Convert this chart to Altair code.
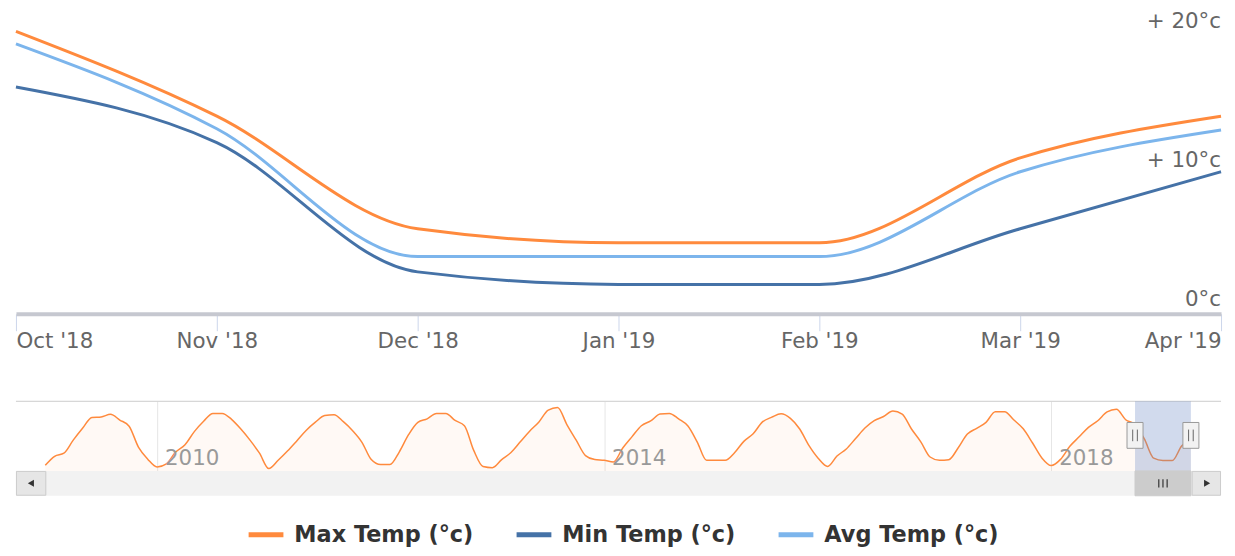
import json
import altair as alt
import pandas as pd

# ---------------- data ----------------
month_labels = ["Oct '18", "Nov '18", "Dec '18", "Jan '19", "Feb '19", "Mar '19", "Apr '19"]
max_temp = [20.1, 14.0, 5.9, 4.9, 4.9, 11.0, 14.0]
min_temp = [16.1, 12.1, 2.8, 1.9, 1.9, 5.9, 10.0]
avg_temp = [19.2, 13.1, 3.9, 3.9, 3.9, 10.0, 13.0]
series_names = ["Max Temp (°c)", "Min Temp (°c)", "Avg Temp (°c)"]
series_colors = ["#ff8a3d", "#4572a7", "#7cb5ec"]
y_ticks = [0, 10, 20]
y_tick_labels = ["0°c", "+ 10°c", "+ 20°c"]

# navigator: monthly max temperature, Jan 2009 .. Apr 2019
nav_2009 = [2.9, 6.7, 8.0, 13.5, 18.5, 23.1, 23.3, 24.4, 22.0, 19.4, 10.6, 5.5]
nav_2010 = [2.2, 3.5, 8.5, 11.6, 17.1, 21.5, 24.8, 24.8, 22.3, 18.2, 13.4, 8.0]
nav_2011 = [1.5, 5.0, 8.9, 13.2, 17.6, 21.1, 23.9, 24.2, 21.3, 17.5, 12.6, 5.3]
nav_2012 = [3.2, 3.2, 8.5, 15.8, 21.0, 22.5, 24.8, 24.8, 21.8, 19.6, 9.2, 2.4]
nav_2013 = [1.9, 5.3, 8.3, 12.8, 17.3, 21.2, 26.2, 27.3, 20.1, 13.5, 7.0, 5.3]
nav_2014 = [5.0, 4.3, 10.2, 15.0, 19.6, 21.6, 24.5, 24.8, 22.5, 19.5, 12.7, 5.0]
nav_2015 = [5.0, 5.0, 8.2, 13.0, 16.2, 21.2, 23.2, 24.6, 22.7, 18.2, 11.2, 5.8]
nav_2016 = [2.4, 6.8, 9.8, 14.2, 18.6, 21.7, 23.5, 25.8, 24.5, 18.2, 12.8, 6.4]
nav_2017 = [5.0, 5.25, 10.2, 16.1, 18.5, 21.0, 25.5, 25.5, 22.0, 18.3, 12.3, 6.0]
nav_2018 = [2.8, 5.4, 10.9, 14.9, 18.9, 21.7, 25.4, 26.5, 22.1, 20.1, 14.0, 5.9]
nav_2019 = [4.9, 4.9, 11.0, 14.0]
nav_first_year = 2009
year_ticks = [2010, 2014, 2018]
sel_start_idx = 117  # Oct 2018 in navigator series
sel_end_idx = 123    # Apr 2019

W = 1212
H_MAIN = 302
H_NAV = 70
H_SCROLL = 25
FONT = "DejaVu Sans"
FS = 21.5

# ---------------- tables ----------------
rows = []
for name, vals in zip(series_names, [max_temp, min_temp, avg_temp]):
    for i, v in enumerate(vals):
        rows.append({"idx": i, "series": name, "value": v})
main_df = pd.DataFrame(rows)
ylab_df = pd.DataFrame({"v": y_ticks, "label": y_tick_labels})

nav_vals = (nav_2009 + nav_2010 + nav_2011 + nav_2012 + nav_2013 + nav_2014 + nav_2015
            + nav_2016 + nav_2017 + nav_2018 + nav_2019)
nav_df = pd.DataFrame({"m": list(range(len(nav_vals))), "v": nav_vals})
year_df = pd.DataFrame({"m": [(y - nav_first_year) * 12 for y in year_ticks],
                        "label": [str(y) for y in year_ticks]})
sel_df = pd.DataFrame({"m0": [sel_start_idx], "m1": [sel_end_idx]})
handle_df = pd.DataFrame({"m": [sel_start_idx, sel_end_idx]})
sel_mid_df = pd.DataFrame({"m": [(sel_start_idx + sel_end_idx) / 2]})
one_df = pd.DataFrame({"a": [0]})

# ---------------- main chart ----------------
label_expr = json.dumps(month_labels) + "[datum.value]"
x_main = alt.X(
    "idx:Q",
    scale=alt.Scale(domain=[0, len(month_labels) - 1], nice=False, zero=False),
    axis=alt.Axis(values=list(range(len(month_labels))), labelExpr=label_expr, grid=False,
                  domainWidth=4, domainColor="#c6c8d0", offset=3, tickSize=17,
                  tickColor="#ccd6eb", tickWidth=1, labelFontSize=FS, labelColor="#666666",
                  labelBaseline="alphabetic", labelPadding=17, labelFlush=True, title=None),
)
y_scale = alt.Scale(domain=[0, 21.6], nice=False, zero=False)

lines = alt.Chart(main_df).mark_line(interpolate="monotone", strokeWidth=3).encode(
    x=x_main,
    y=alt.Y("value:Q", scale=y_scale,
            axis=alt.Axis(values=y_ticks, grid=True, gridColor="#e6e6e6", labels=False,
                          ticks=False, domain=False, title=None)),
    color=alt.Color("series:N", sort=series_names,
                    scale=alt.Scale(domain=series_names, range=series_colors),
                    legend=alt.Legend(orient="none", direction="horizontal", legendX=231.5,
                                      legendY=507, symbolType="stroke", symbolSize=1225,
                                      symbolStrokeWidth=5, labelFontSize=22.5,
                                      labelFontWeight="bold", labelColor="#333333",
                                      labelLimit=0, columnPadding=32.5, labelOffset=8.5,
                                      title=None)),
)
ylabels = alt.Chart(ylab_df).mark_text(align="right", baseline="alphabetic", dy=-5,
                                       fontSize=FS, color="#666666").encode(
    x=alt.value(W),
    y=alt.Y("v:Q", scale=y_scale, axis=None),
    text="label:N",
)
main = alt.layer(lines, ylabels).properties(width=W, height=H_MAIN)

# ---------------- navigator ----------------
px_per_m = (1191.7 - 39.5) / 123
nav_domain = [-(39.5 - 10) / px_per_m, 123 + (1222 - 1191.7) / px_per_m]
nav_x_scale = alt.Scale(domain=nav_domain, nice=False, zero=False)
nav_y_scale = alt.Scale(domain=[0.54, 29.9], nice=False, zero=False)

nav_base = alt.Chart(nav_df).encode(
    x=alt.X("m:Q", scale=nav_x_scale,
            axis=alt.Axis(values=year_df["m"].tolist(), grid=True, gridColor="#e6e6e6",
                          labels=False, ticks=False, domain=False, title=None)),
)
nav_area = nav_base.mark_area(color=series_colors[0], opacity=0.05, interpolate="monotone").encode(
    y=alt.Y("v:Q", scale=nav_y_scale, axis=None), y2=alt.value(H_NAV))
nav_line = nav_base.mark_line(color=series_colors[0], strokeWidth=1.5, interpolate="monotone").encode(
    y=alt.Y("v:Q", scale=nav_y_scale, axis=None))
nav_years = alt.Chart(year_df).mark_text(align="left", baseline="alphabetic", dx=8,
                                         fontSize=FS, color="#999999").encode(
    x=alt.X("m:Q", scale=nav_x_scale), y=alt.value(64), text="label:N")
nav_top = alt.Chart(one_df).mark_rule(color="#cccccc", strokeWidth=1).encode(
    x=alt.value(0), x2=alt.value(W), y=alt.value(0))
nav_mask = alt.Chart(sel_df).mark_rect(fill="#6685c2", opacity=0.3).encode(
    x=alt.X("m0:Q", scale=nav_x_scale), x2="m1:Q", y=alt.value(0), y2=alt.value(H_NAV))
handles = alt.Chart(handle_df).mark_point(shape="M-0.62,-1H0.62V1H-0.62Z", size=676,
                                          filled=True, fill="#f2f2f2", stroke="#999999",
                                          strokeWidth=1, opacity=1).encode(
    x=alt.X("m:Q", scale=nav_x_scale), y=alt.value(34.3))
grips = alt.Chart(handle_df).mark_point(shape="M-0.18,-0.45V0.45M0.18,-0.45V0.45", size=676,
                                        filled=False, stroke="#666666", strokeWidth=1,
                                        opacity=1).encode(
    x=alt.X("m:Q", scale=nav_x_scale), y=alt.value(34.3))
nav = alt.layer(nav_area, nav_line, nav_years, nav_top, nav_mask, handles, grips).properties(
    width=W, height=H_NAV)

# ---------------- scrollbar ----------------
sb_bg = alt.Chart(one_df).mark_rect(fill="#f2f2f2").encode(
    x=alt.value(0), x2=alt.value(W), y=alt.value(0), y2=alt.value(H_SCROLL))
sb_thumb = alt.Chart(sel_df).mark_rect(fill="#cccccc", stroke="#cccccc").encode(
    x=alt.X("m0:Q", scale=nav_x_scale, axis=None), x2="m1:Q", y=alt.value(0),
    y2=alt.value(H_SCROLL))
sb_btn_l = alt.Chart(one_df).mark_rect(fill="#e6e6e6", stroke="#cccccc").encode(
    x=alt.value(0.5), x2=alt.value(30), y=alt.value(0.5), y2=alt.value(H_SCROLL - 0.5))
sb_btn_r = alt.Chart(one_df).mark_rect(fill="#e6e6e6", stroke="#cccccc").encode(
    x=alt.value(1183), x2=alt.value(W - 0.5), y=alt.value(0.5), y2=alt.value(H_SCROLL - 0.5))
sb_tri_l = alt.Chart(one_df).mark_point(shape="triangle-left", size=50, filled=True,
                                        color="#333333", opacity=1).encode(
    x=alt.value(15), y=alt.value(12.5))
sb_tri_r = alt.Chart(one_df).mark_point(shape="triangle-right", size=50, filled=True,
                                        color="#333333", opacity=1).encode(
    x=alt.value(1198), y=alt.value(12.5))
sb_rifles = alt.Chart(sel_mid_df).mark_point(
    shape="M-0.6,-0.6V0.6M0,-0.6V0.6M0.6,-0.6V0.6", size=196, filled=False,
    stroke="#333333", strokeWidth=1.2, opacity=1).encode(
    x=alt.X("m:Q", scale=nav_x_scale), y=alt.value(12.5))
scroll = alt.layer(sb_bg, sb_thumb, sb_btn_l, sb_btn_r, sb_tri_l, sb_tri_r, sb_rifles).properties(
    width=W, height=H_SCROLL)

lower = alt.vconcat(nav, scroll, spacing=0, bounds="flush")
chart = alt.vconcat(main, lower, spacing=91, bounds="flush").resolve_scale(
    x="independent", y="independent"
).properties(
    padding={"left": 2, "top": 1, "right": 0, "bottom": 0.5}
).configure(font=FONT).configure_view(stroke=None)

chart.save("out.html", embed_options={"renderer": "svg", "actions": False})
